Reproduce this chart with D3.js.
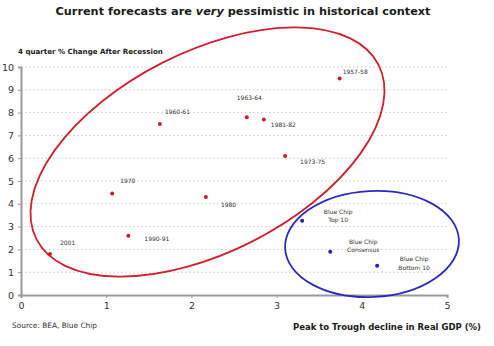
<!DOCTYPE html>
<html>
<head>
<meta charset="utf-8">
<script src="https://cdn.jsdelivr.net/npm/d3@7"></script>
<style>
  html, body { margin: 0; padding: 0; background: #fff; }
  svg { display: block; }
</style>
</head>
<body>
<svg id="chart" width="494" height="346"></svg>
<script>
// Recession episodes: peak-to-trough GDP decline vs. growth in the 4 quarters after
const recessionLabels = ["2001", "1970", "1990-91", "1960-61", "1980", "1963-64", "1981-82", "1973-75", "1957-58"];
const recessionDecline = [0.34, 1.07, 1.26, 1.63, 2.17, 2.65, 2.85, 3.10, 3.74];
const recessionRebound = [1.8, 4.45, 2.6, 7.5, 4.3, 7.8, 7.7, 6.1, 9.5];

// Current Blue Chip forecasts
const forecastLabels = [["Blue Chip", "Top 10"], ["Blue Chip", "Consensus"], ["Blue Chip", "Bottom 10"]];
const forecastDecline = [3.3, 3.63, 4.18];
const forecastRebound = [3.26, 1.9, 1.28];

const xTicks = [0, 1, 2, 3, 4, 5];
const yTicks = [0, 1, 2, 3, 4, 5, 6, 7, 8, 9, 10];

const svg = d3.select("#chart");
const font = "Verdana, 'DejaVu Sans', sans-serif";

const x = d3.scaleLinear().domain([0, 5]).range([21, 447]);
const y = d3.scaleLinear().domain([0, 10]).range([295, 67]);

// Title
const title = svg.append("text")
  .attr("x", 243).attr("y", 15)
  .attr("text-anchor", "middle")
  .attr("font-family", font).attr("font-weight", "bold")
  .attr("font-size", 11.3).attr("fill", "#1a1a1a");
title.append("tspan").text("Current forecasts are ");
title.append("tspan").attr("font-style", "italic").text("very");
title.append("tspan").text(" pessimistic in historical context");

// Axis titles and source
svg.append("text").attr("x", 18).attr("y", 54)
  .attr("font-family", font).attr("font-weight", "bold")
  .attr("font-size", 7.1).attr("fill", "#1a1a1a")
  .text("4 quarter % Change After Recession");

svg.append("text").attr("x", 481).attr("y", 330)
  .attr("text-anchor", "end")
  .attr("font-family", font).attr("font-weight", "bold")
  .attr("font-size", 8.5).attr("fill", "#1a1a1a")
  .text("Peak to Trough decline in Real GDP (%)");

svg.append("text").attr("x", 12).attr("y", 328)
  .attr("font-family", font)
  .attr("font-size", 7.4).attr("fill", "#333")
  .text("Source: BEA, Blue Chip");

// Dotted horizontal gridlines
svg.append("g").selectAll("line")
  .data(yTicks.filter(d => d > 0))
  .join("line")
  .attr("x1", x(0)).attr("x2", x(5))
  .attr("y1", d => y(d)).attr("y2", d => y(d))
  .attr("stroke", "#c8c8c8").attr("stroke-width", 1)
  .attr("stroke-dasharray", "1.5,2.5");

// Axes
const yAxis = svg.append("g")
  .attr("transform", `translate(${x(0)},0)`)
  .call(d3.axisLeft(y).tickValues(yTicks).tickFormat(d3.format("d")).tickSize(3).tickPadding(4));
const xAxis = svg.append("g")
  .attr("transform", `translate(0,${y(0)})`)
  .call(d3.axisBottom(x).tickValues(xTicks).tickFormat(d3.format("d")).tickSize(3).tickPadding(4));

[yAxis, xAxis].forEach(g => {
  g.select(".domain").attr("stroke", "#9a9a9a").attr("stroke-width", 2);
  g.selectAll(".tick line").attr("stroke", "#9a9a9a");
  g.selectAll(".tick text")
    .attr("font-family", font).attr("font-size", 9.5).attr("fill", "#333");
});

// Recession points and labels
const labelOffsets = {
  "2001": [10, -11], "1970": [8, -13], "1990-91": [16, 3], "1960-61": [5, -12],
  "1980": [15, 8], "1963-64": [-10, -19], "1981-82": [7, 5], "1973-75": [15, 6],
  "1957-58": [3, -7]
};
const recG = svg.append("g");
recessionLabels.forEach((lab, i) => {
  const px = x(recessionDecline[i]), py = y(recessionRebound[i]);
  recG.append("circle").attr("cx", px).attr("cy", py).attr("r", 2)
    .attr("fill", "#d01828");
  const [dx, dy] = labelOffsets[lab];
  recG.append("text").attr("x", px + dx).attr("y", py + dy + 2.3)
    .attr("font-family", font).attr("font-size", 6).attr("fill", "#333")
    .text(lab);
});

// Forecast points and two-line labels (centred text)
const forecastOffsets = [[36, -9], [33, -10], [37, -7]];
const fcG = svg.append("g");
forecastLabels.forEach((lines, i) => {
  const px = x(forecastDecline[i]), py = y(forecastRebound[i]);
  fcG.append("circle").attr("cx", px).attr("cy", py).attr("r", 2)
    .attr("fill", "#2020b0");
  const t = fcG.append("text")
    .attr("font-family", font).attr("font-size", 6).attr("fill", "#333")
    .attr("text-anchor", "middle");
  lines.forEach((ln, k) => {
    t.append("tspan").attr("x", px + forecastOffsets[i][0])
      .attr("y", py + forecastOffsets[i][1] + 2.3 + k * 8.4).text(ln);
  });
});

// Highlight ellipses
svg.append("ellipse")
  .attr("transform", "translate(207.5,152) rotate(-27)")
  .attr("rx", 192).attr("ry", 100)
  .attr("fill", "none").attr("stroke", "#d02030").attr("stroke-width", 1.8);

svg.append("ellipse")
  .attr("transform", "translate(372,244) rotate(-3)")
  .attr("rx", 87).attr("ry", 53)
  .attr("fill", "none").attr("stroke", "#2a2ac0").attr("stroke-width", 1.8);
</script>
</body>
</html>
